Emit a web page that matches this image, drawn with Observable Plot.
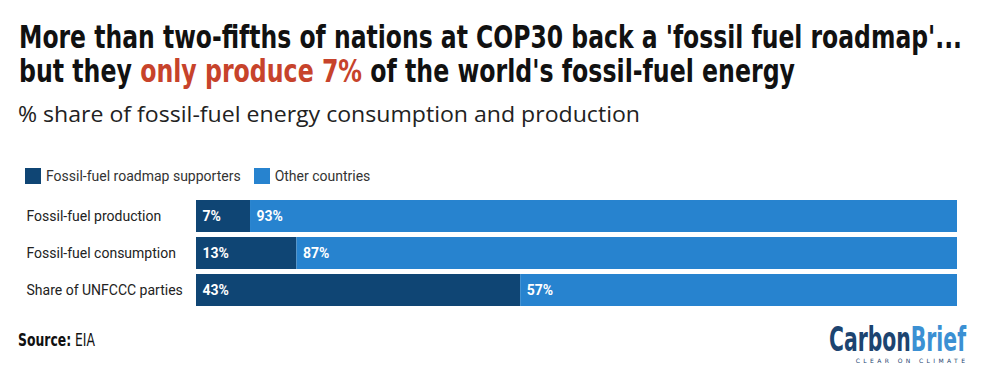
<!DOCTYPE html>
<html>
<head>
<meta charset="utf-8">
<script src="https://cdn.jsdelivr.net/npm/d3@7"></script>
<script src="https://cdn.jsdelivr.net/npm/@observablehq/plot@0.6"></script>
<style>
  html, body { margin: 0; padding: 0; background: #fff; }
  #wrap { position: relative; width: 1000px; height: 390px; overflow: hidden; }
  .abs { position: absolute; white-space: nowrap; transform-origin: 0 0; }
  .cond { font-family: "Liberation Sans Narrow", "DejaVu Sans Condensed", "Liberation Sans", sans-serif; font-stretch: condensed; }
  .title { font-weight: 700; color: #111; font-size: 32px; line-height: 31px; left: 19px; }
  .title .hl { color: #c7432b; }
  .sub { font-family: "Open Sans", "Noto Sans", sans-serif; color: #222; font-size: 21px; line-height: 26px; left: 18px; }
  .legend { font-family: Roboto, sans-serif; font-size: 14px; color: #333; top: 168px; left: 25px; display: flex; align-items: center; }
  .legend .sw { display: inline-block; width: 16px; height: 16px; margin-right: 5px; }
  .legend .item { display: flex; align-items: center; margin-right: 13px; }
  .source { font-size: 17px; line-height: 20px; color: #111; left: 18px; }
  .logo { font-weight: 700; font-size: 34px; line-height: 26px; }
  .tag { font-family: "DejaVu Sans", sans-serif; font-size: 6px; line-height: 7px; letter-spacing: 3.4px; color: #1c4470; }
  #chart { position: absolute; left: 0; top: 195px; }
</style>
</head>
<body>
<div id="wrap">
  <div class="abs title cond" id="t1" style="top:22px">More than two-fifths of nations at COP30 back a 'fossil fuel roadmap'...</div>
  <div class="abs title cond" id="t2" style="top:56px">but they <span class="hl">only produce 7%</span> of the world's fossil-fuel energy</div>
  <div class="abs sub" id="sub" style="top:101px">% share of fossil-fuel energy consumption and production</div>
  <div class="abs legend" id="legend"></div>
  <div id="chart"></div>
  <div class="abs source cond" id="src" style="top:330px"><b>Source:</b> EIA</div>
  <div class="abs logo cond" id="logo" style="top:326px; left:829px"><span style="color:#1c4470">Carbon</span><span style="color:#3b90d3">Brief</span></div>
  <div class="abs tag" id="tag" style="top:357px; left:858px">CLEAR ON CLIMATE</div>
</div>
<script>
// ---- data ----
const categories = ["Fossil-fuel production", "Fossil-fuel consumption", "Share of UNFCCC parties"];
const groups = ["Fossil-fuel roadmap supporters", "Other countries"];
const supporters = [7.1, 13.2, 42.6];
const others = [92.9, 86.8, 57.4];
const colors = ["#0f4574", "#2783cf"];

// ---- horizontally fit text (keeps it real text) ----
function squeeze(id, target) {
  const el = document.getElementById(id);
  const w = el.getBoundingClientRect().width;
  const k = target / w;
  el.style.transform = `scaleX(${k})`;
  return k;
}
squeeze("t1", 943);
squeeze("t2", 776);
squeeze("sub", 622);
squeeze("src", 77);
squeeze("logo", 137);
(function () {
  const tag = document.getElementById("tag");
  const w = tag.getBoundingClientRect().width;
  tag.style.left = (965 - w + 3.4) + "px";
})();

// ---- legend ----
const legend = document.getElementById("legend");
groups.forEach((g, i) => {
  const it = document.createElement("div");
  it.className = "item";
  it.innerHTML = `<span class="sw" style="background:${colors[i]}"></span><span>${g}</span>`;
  legend.appendChild(it);
});

// ---- table ----
const rows = [];
categories.forEach((c, i) => {
  rows.push({category: c, group: groups[0], value: supporters[i]});
  rows.push({category: c, group: groups[1], value: others[i]});
});
const fmt = d => d3.format(".0f")(d.value) + "%";

const chart = Plot.plot({
  width: 1000,
  height: 117,
  marginTop: 5,
  marginBottom: 6,
  marginLeft: 196,
  marginRight: 43,
  style: {fontFamily: "Roboto, sans-serif", fontSize: "14px", color: "#222", background: "transparent"},
  x: {domain: [0, 100], axis: null},
  y: {domain: categories, paddingInner: 0.14, paddingOuter: 0, label: null},
  color: {domain: groups, range: colors},
  marks: [
    Plot.barX(rows, Plot.stackX({x: "value", y: "category", fill: "group", z: "group", order: null})),
    Plot.text(rows, Plot.stackX1({x: "value", y: "category", z: "group", order: null, text: fmt,
      textAnchor: "start", dx: 6, fill: "white", fontWeight: "bold", fontSize: 14})),
    Plot.axisY({tickSize: 0, textAnchor: "start", dx: -161, label: null, fill: "#222", fontSize: 14})
  ]
});
document.getElementById("chart").appendChild(chart);
</script>
</body>
</html>
